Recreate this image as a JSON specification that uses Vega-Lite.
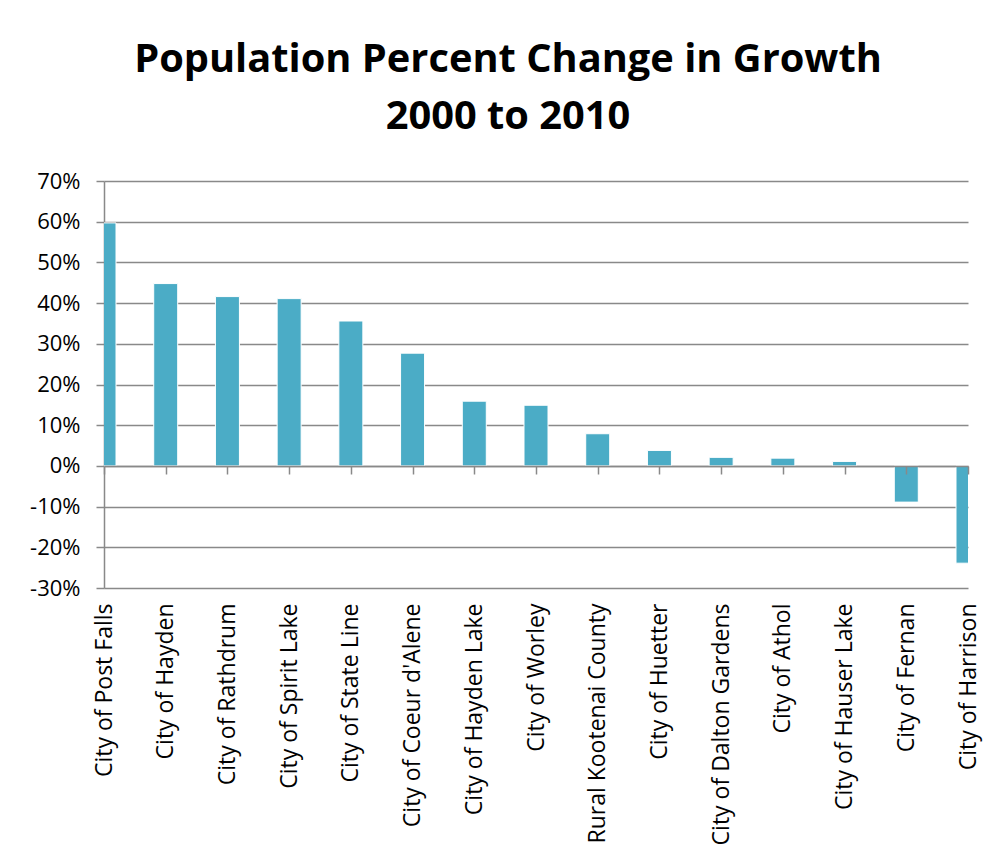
{
  "$schema": "https://vega.github.io/schema/vega-lite/v6.json",
  "width": 864,
  "height": 407,
  "autosize": {"type": "none"},
  "padding": {"left": 104, "top": 181, "right": 17, "bottom": 275},
  "background": "white",
  "title": {
    "text": ["Population Percent Change in Growth", "2000 to 2010"],
    "font": "Open Sans",
    "fontSize": 39.8,
    "fontWeight": "bold",
    "color": "black",
    "lineHeight": 57,
    "anchor": "middle",
    "frame": "group",
    "dx": -28,
    "offset": 32
  },
  "config": {"view": {"stroke": null}},
  "data": {
    "values": [
      {"place": "City of Post Falls", "change": 0.597},
      {"place": "City of Hayden", "change": 0.448},
      {"place": "City of Rathdrum", "change": 0.416},
      {"place": "City of Spirit Lake", "change": 0.411},
      {"place": "City of State Line", "change": 0.356},
      {"place": "City of Coeur d'Alene", "change": 0.277},
      {"place": "City of Hayden Lake", "change": 0.159},
      {"place": "City of Worley", "change": 0.149},
      {"place": "Rural Kootenai County", "change": 0.079},
      {"place": "City of Huetter", "change": 0.038},
      {"place": "City of Dalton Gardens", "change": 0.021},
      {"place": "City of Athol", "change": 0.019},
      {"place": "City of Hauser Lake", "change": 0.011},
      {"place": "City of Fernan", "change": -0.089},
      {"place": "City of Harrison", "change": -0.239}
    ]
  },
  "encoding": {
    "y": {
      "field": "change",
      "type": "quantitative",
      "scale": {"domain": [-0.3, 0.7], "nice": false, "zero": false},
      "axis": {
        "title": null,
        "values": [-0.3, -0.2, -0.1, 0, 0.1, 0.2, 0.3, 0.4, 0.5, 0.6, 0.7],
        "labelExpr": "replace(format(datum.value, '.0%'), '−', '-')",
        "labelFont": "Open Sans",
        "labelFontSize": 22,
        "labelColor": "black",
        "labelPadding": 16,
        "tickSize": 8,
        "tickColor": "#898989",
        "tickWidth": 1.5,
        "domainColor": "#898989",
        "domainWidth": 1.5,
        "gridColor": "#898989",
        "gridWidth": 1.5
      }
    }
  },
  "layer": [
    {
      "mark": {"type": "bar", "width": 24, "color": "#4BACC6", "stroke": "white", "strokeWidth": 1, "clip": true},
      "encoding": {
        "x": {
          "field": "place",
          "type": "nominal",
          "sort": null,
          "scale": {"type": "point", "padding": 0},
          "axis": {
            "title": null,
            "orient": "bottom",
            "labelAngle": -90,
            "labelAlign": "right",
            "labelBaseline": "middle",
            "labelFont": "Open Sans",
            "labelFontSize": 23,
            "labelColor": "black",
            "labelPadding": 15,
            "labelLimit": 400,
            "ticks": false,
            "domain": false,
            "grid": false
          }
        }
      }
    },
    {
      "mark": {"type": "bar", "width": 24, "opacity": 0, "clip": true},
      "encoding": {
        "x": {
          "field": "place",
          "type": "nominal",
          "sort": null,
          "scale": {"type": "point", "padding": 0},
          "axis": {
            "title": null,
            "orient": "bottom",
            "offset": -122,
            "labels": false,
            "ticks": true,
            "tickSize": 8,
            "tickColor": "#898989",
            "tickWidth": 1.5,
            "domain": true,
            "domainColor": "#898989",
            "domainWidth": 1.5,
            "grid": false,
            "zindex": 1
          }
        }
      }
    }
  ],
  "resolve": {"axis": {"x": "independent"}}
}
